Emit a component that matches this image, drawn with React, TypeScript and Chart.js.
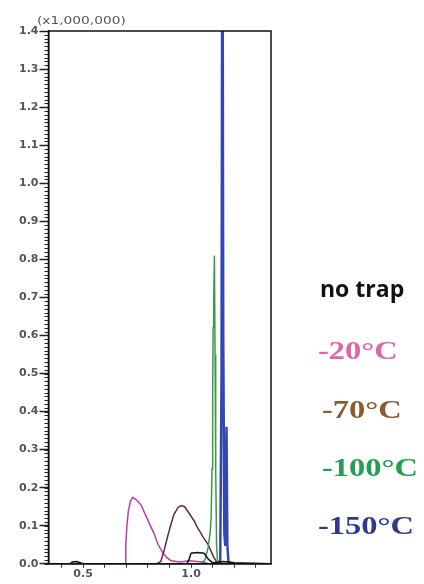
import React, { useEffect, useRef } from 'react';
import { Chart, registerables } from 'chart.js';

Chart.register(...registerables);

// ---- data ----
const xMin = 0.34;
const xMax = 1.37;
const yMin = 0;
const yMax = 1.4;
const yMajorStep = 0.1;
const yMinorStep = 0.01;
const xStep = 0.1;
const xLabeledTicks = [0.5, 1.0];
const multiplierLabel = '(x1,000,000)';

const noTrapX = [0.34, 0.44, 0.45, 0.47, 0.48, 0.5, 0.98, 0.99, 1.0, 1.03, 1.06, 1.08, 1.1, 1.125, 1.15, 1.2, 1.37];
const noTrapY = [0, 0, 0.005, 0.006, 0.004, 0, 0, 0.01, 0.028, 0.03, 0.028, 0.012, 0.003, 0.004, 0.006, 0.003, 0];

const minus20X = [0.68, 0.695, 0.698, 0.703, 0.71, 0.72, 0.729, 0.743, 0.768, 0.788, 0.808, 0.828, 0.848, 0.868, 0.888, 0.908, 0.95, 0.99, 1.03, 1.06, 1.08];
const minus20Y = [0, 0, 0.05, 0.1, 0.14, 0.165, 0.174, 0.17, 0.155, 0.13, 0.105, 0.08, 0.05, 0.03, 0.016, 0.008, 0.005, 0.008, 0.006, 0.004, 0];

const minus70X = [0.84, 0.86, 0.875, 0.893, 0.91, 0.921, 0.94, 0.954, 0.97, 0.985, 1.0, 1.015, 1.03, 1.046, 1.06, 1.078, 1.095, 1.106, 1.12, 1.14];
const minus70Y = [0, 0.006, 0.035, 0.075, 0.11, 0.13, 0.148, 0.153, 0.15, 0.138, 0.125, 0.112, 0.095, 0.08, 0.066, 0.052, 0.03, 0.016, 0.003, 0];

const minus100X = [1.045, 1.064, 1.078, 1.088, 1.093, 1.097, 1.1, 1.102, 1.105, 1.108, 1.111, 1.114, 1.118, 1.122, 1.132];
const minus100Y = [0, 0.01, 0.04, 0.08, 0.12, 0.25, 0.45, 0.62, 0.7, 0.81, 0.55, 0.25, 0.05, 0.01, 0];

const minus150X = [1.115, 1.135, 1.141, 1.145, 1.149, 1.154, 1.158, 1.161, 1.164, 1.168, 1.173, 1.195];
const minus150Y = [0, 0.005, 0.5, 2.0, 0.6, 0.08, 0.05, 0.2, 0.36, 0.05, 0.005, 0];

const seriesNames = ['no trap', '-20°C', '-70°C', '-100°C', '-150°C'];
const lineColors = ['#111111', '#b8409f', '#5b3038', '#3a9a4a', '#3446b0'];
const legendColors = ['#111111', '#e064a8', '#8a5a32', '#22a050', '#2d3a8c'];

const toPoints = (xs: number[], ys: number[]) => xs.map((x, i) => ({ x, y: ys[i] }));

const frameAndMinorTicks = {
  id: 'frameAndMinorTicks',
  afterDraw(chart: any) {
    const { ctx, chartArea, scales } = chart;
    const y = scales.y;
    ctx.save();
    ctx.strokeStyle = '#222';
    ctx.lineWidth = 1;
    ctx.beginPath();
    const n = Math.round((yMax - yMin) / yMinorStep);
    for (let i = 0; i <= n; i++) {
      const py = Math.round(y.getPixelForValue(yMin + i * yMinorStep)) + 0.5;
      ctx.moveTo(chartArea.left - 4, py);
      ctx.lineTo(chartArea.left, py);
    }
    ctx.stroke();
    ctx.lineWidth = 1.5;
    ctx.strokeStyle = '#111';
    ctx.strokeRect(chartArea.left, chartArea.top, chartArea.right - chartArea.left, chartArea.bottom - chartArea.top);
    ctx.restore();
  },
};

export default function App() {
  const canvasRef = useRef<HTMLCanvasElement | null>(null);

  useEffect(() => {
    document.body.style.margin = '0';
    const canvas = canvasRef.current;
    if (!canvas) return;
    const seriesX = [noTrapX, minus20X, minus70X, minus100X, minus150X];
    const seriesY = [noTrapY, minus20Y, minus70Y, minus100Y, minus150Y];
    const drawOrder = [0, 4, 3, 2, 1];
    const datasets = seriesNames.map((name, i) => ({
      label: name,
      data: toPoints(seriesX[i], seriesY[i]),
      borderColor: lineColors[i],
      backgroundColor: lineColors[i],
      borderWidth: i === 4 ? 2.5 : 1.5,
      pointRadius: 0,
      tension: 0,
      fill: false,
      order: drawOrder[i],
    }));
    const tickFont = { family: '"DejaVu Sans", sans-serif', size: 11, weight: 'bold' as const };
    const chart = new Chart(canvas, {
      type: 'line',
      data: { datasets },
      plugins: [frameAndMinorTicks],
      options: {
        animation: false,
        responsive: false,
        maintainAspectRatio: false,
        layout: { padding: { left: 18, right: 153, top: 31, bottom: 3 } },
        plugins: { legend: { display: false }, tooltip: { enabled: false } },
        scales: {
          x: {
            type: 'linear',
            min: xMin,
            max: xMax,
            ticks: {
              stepSize: xStep,
              includeBounds: false,
              autoSkip: false,
              maxRotation: 0,
              padding: 0,
              color: '#555',
              font: tickFont,
              callback: (v: any) =>
                xLabeledTicks.some((t) => Math.abs(t - Number(v)) < 1e-6) ? Number(v).toFixed(1) : '',
            },
            grid: { drawOnChartArea: false, tickLength: 4, tickColor: '#333', tickWidth: 1 },
            border: { color: '#111', width: 1.5 },
          },
          y: {
            min: yMin,
            max: yMax,
            ticks: {
              stepSize: yMajorStep,
              autoSkip: false,
              padding: 1,
              color: '#555',
              font: tickFont,
              callback: (v: any) => Number(v).toFixed(1),
            },
            grid: { drawOnChartArea: false, tickLength: 9, tickColor: '#222', tickWidth: 1.5 },
            border: { color: '#111', width: 1.5 },
          },
        },
      },
    });
    return () => chart.destroy();
  }, []);

  const legendTops = [276, 338, 397, 455, 513];
  const legendLefts = [320, 318, 322, 322, 318];

  return (
    <div style={{ position: 'relative', width: 424, height: 584, background: '#fff', overflow: 'hidden' }}>
      <canvas ref={canvasRef} width={424} height={584} style={{ position: 'absolute', left: 0, top: 0 }} />
      <div
        style={{
          position: 'absolute',
          left: 37,
          top: 15,
          fontFamily: '"DejaVu Sans", sans-serif',
          fontSize: 11,
          lineHeight: '12px',
          color: '#555',
          transform: 'scaleX(1.25)',
          transformOrigin: 'left center',
          whiteSpace: 'nowrap',
        }}
      >
        {multiplierLabel}
      </div>
      {seriesNames.map((name, i) => (
        <div
          key={name}
          style={{
            position: 'absolute',
            left: legendLefts[i],
            top: legendTops[i],
            fontFamily: i === 0 ? '"Open Sans", sans-serif' : '"Liberation Serif", serif',
            fontWeight: 'bold',
            fontSize: i === 0 ? 23 : 25,
            lineHeight: '25px',
            color: legendColors[i],
            transform: i === 0 ? 'none' : 'scaleX(1.3)',
            transformOrigin: 'left center',
            whiteSpace: 'nowrap',
          }}
        >
          {name}
        </div>
      ))}
    </div>
  );
}
